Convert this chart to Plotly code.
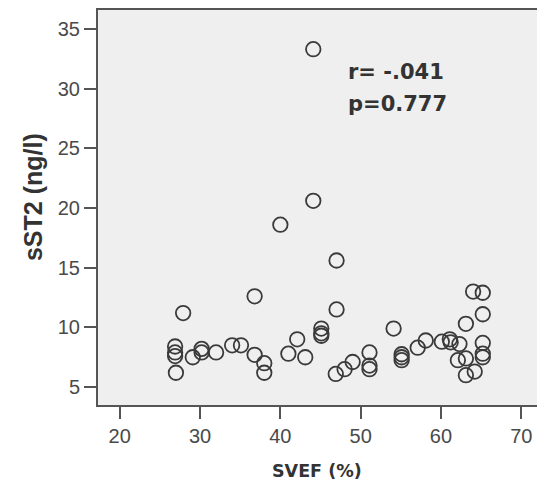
import plotly.graph_objects as go

svef = [27.9, 26.9, 26.9, 26.9, 27.0, 29.1, 30.2, 30.2, 32.0, 34.0, 35.1,
        36.8, 36.8, 38.0, 38.0, 40.0, 41.0, 42.1, 43.1, 44.1, 44.1,
        45.1, 45.1, 45.1, 47.0, 47.0, 46.9, 48.0, 49.0, 51.1, 51.1, 51.1,
        54.1, 55.1, 55.1, 55.1, 57.1, 58.1, 60.1, 61.1, 61.2, 62.3,
        63.1, 62.1, 63.1, 63.1, 64.2, 64.0, 65.2, 65.2, 65.2, 65.2, 65.2]
sst2 = [11.2, 8.4, 7.9, 7.6, 6.2, 7.5, 8.2, 7.9, 7.9, 8.5, 8.5,
        12.6, 7.7, 7.0, 6.2, 18.6, 7.8, 9.0, 7.5, 33.3, 20.6,
        9.9, 9.5, 9.3, 15.6, 11.5, 6.1, 6.5, 7.1, 7.9, 6.8, 6.5,
        9.9, 7.75, 7.5, 7.25, 8.3, 8.9, 8.8, 9.0, 8.75, 8.6,
        10.3, 7.25, 7.4, 6.0, 6.3, 13.0, 12.9, 11.1, 8.7, 7.8, 7.5]

x_ticks = [20, 30, 40, 50, 60, 70]
y_ticks = [5, 10, 15, 20, 25, 30, 35]
stats_text = ["r= -.041", "p=0.777"]

fig = go.Figure()
fig.add_trace(go.Scatter(
    x=svef, y=sst2, mode="markers",
    marker=dict(symbol="circle-open", size=14.5, color="#3a3a3a",
                line=dict(width=1.8, color="#3a3a3a")),
    showlegend=False, hoverinfo="skip"))

tickfont = dict(family="Liberation Sans, Arial", size=20, color="#4a4a4a")
fig.update_xaxes(range=[17.3, 72.7], tickvals=x_ticks, ticks="outside",
                 ticklen=12, tickwidth=2, tickcolor="#555",
                 showline=True, linecolor="#555", linewidth=2, mirror=True,
                 showgrid=False, zeroline=False, tickfont=tickfont)
fig.update_yaxes(range=[3.5, 36.58], tickvals=y_ticks, ticks="outside",
                 ticklen=12, tickwidth=2, tickcolor="#555",
                 showline=True, linecolor="#555", linewidth=2, mirror=True,
                 showgrid=False, zeroline=False, tickfont=tickfont)

annfont = dict(family="DejaVu Sans", size=21, color="#333")
fig.add_annotation(x=48.2, y=31.4, xref="x", yref="y", text="<b>%s</b>" % stats_text[0],
                   showarrow=False, xanchor="left", yanchor="middle", font=annfont)
fig.add_annotation(x=48.2, y=28.75, xref="x", yref="y", text="<b>%s</b>" % stats_text[1],
                   showarrow=False, xanchor="left", yanchor="middle", font=annfont)

fig.add_annotation(x=(318 - 98) / 447, y=0, xref="paper", yref="paper",
                   text="<b>SVEF (%)</b>", showarrow=False, yshift=-66,
                   xanchor="center", yanchor="middle",
                   font=dict(family="DejaVu Sans", size=17.5, color="#333"))
fig.add_annotation(x=0, y=(405 - 196) / 397, xref="paper", yref="paper",
                   text="<b>sST2 (ng/l)</b>", showarrow=False, xshift=-65,
                   textangle=-90, xanchor="center", yanchor="middle",
                   font=dict(family="Liberation Sans, Arial", size=25, color="#333"))

fig.update_layout(width=537, height=478,
                  margin=dict(l=90, r=0, t=0, b=81),
                  plot_bgcolor="#efefef", paper_bgcolor="white")
fig.write_html("out.html")
